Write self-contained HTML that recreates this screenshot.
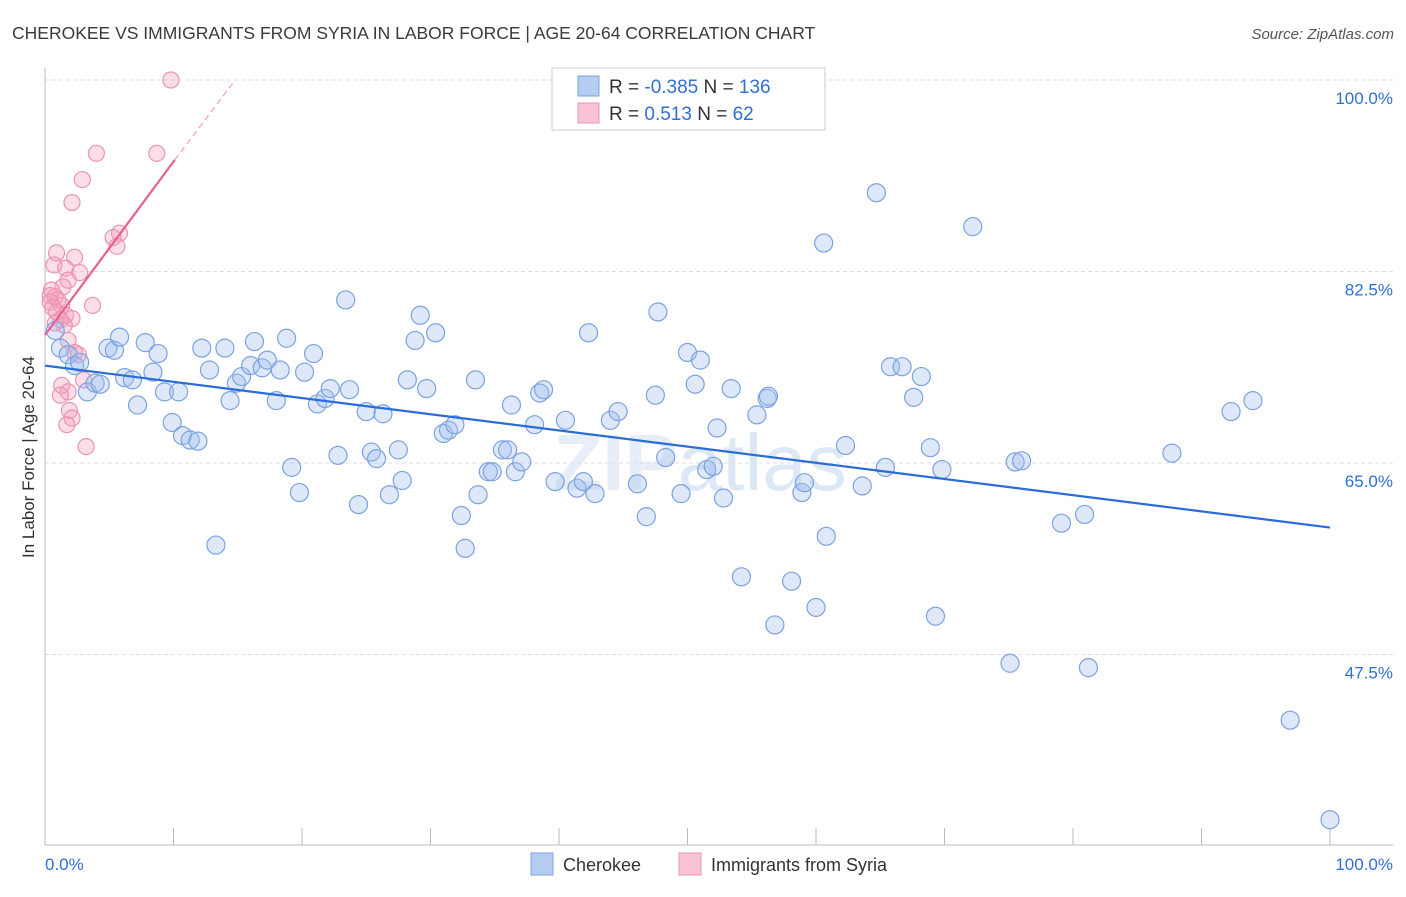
<!DOCTYPE html>
<html><head><meta charset="utf-8"><style>
body{margin:0;background:#fff;font-family:"Liberation Sans",sans-serif;}
svg text{font-family:"Liberation Sans",sans-serif;}
</style></head><body>
<svg width="1406" height="892" xmlns="http://www.w3.org/2000/svg">
<text x="12" y="39" font-size="17.5" fill="#3a3a3a">CHEROKEE VS IMMIGRANTS FROM SYRIA IN LABOR FORCE | AGE 20-64 CORRELATION CHART</text>
<text x="1394" y="39" font-size="15" fill="#555" font-style="italic" text-anchor="end">Source: ZipAtlas.com</text>
<text x="700" y="490" font-size="80" fill="#e8eef7" text-anchor="middle" font-weight="bold">ZIP<tspan fill="#dde8f7" font-weight="normal">atlas</tspan></text>
<g id="grid"></g>
<g id="axes"></g>
<g id="marks"></g>
<text transform="translate(34,457) rotate(-90)" font-size="17" fill="#333" text-anchor="middle">In Labor Force | Age 20-64</text>
<g>
<rect x="552" y="68" width="273" height="62" fill="#fff" stroke="#ccc"/>
<rect x="578" y="76" width="21" height="20" fill="#b4cdf1" stroke="#7aa3e0"/>
<rect x="578" y="103" width="21" height="20" fill="#f9c5d5" stroke="#ec94b0"/>
<text x="609" y="93" font-size="19" fill="#333">R = <tspan fill="#2f6fd6">-0.385</tspan>   N = <tspan fill="#2f6fd6">136</tspan></text>
<text x="609" y="120" font-size="19" fill="#333">R =   <tspan fill="#2f6fd6">0.513</tspan>   N =   <tspan fill="#2f6fd6">62</tspan></text>
</g>
<g>
<rect x="531" y="853" width="22" height="22" fill="#b4cdf1" stroke="#7aa3e0"/>
<text x="563" y="871" font-size="18" fill="#333">Cherokee</text>
<rect x="679" y="853" width="22" height="22" fill="#f9c5d5" stroke="#ec94b0"/>
<text x="711" y="871" font-size="18" fill="#333">Immigrants from Syria</text>
</g>
</svg>
<script>
const yTicks=[100,82.5,65,47.5];
const yTickLabels=["100.0%","82.5%","65.0%","47.5%"];
const xTickLabels=["0.0%","100.0%"];
const cherokeeX=[0.8,1.2,1.8,2.3,2.7,3.3,3.9,4.3,4.9,5.4,5.8,6.2,6.8,7.2,7.8,8.4,8.8,9.3,9.9,10.4,10.7,11.3,11.9,12.2,12.8,13.3,14.0,14.4,14.9,15.3,16.0,16.3,16.9,17.3,18.0,18.3,18.8,19.2,19.8,20.2,20.9,21.2,21.8,22.2,22.8,23.4,23.7,24.4,25.0,25.4,25.8,26.3,26.8,27.5,27.8,28.2,28.8,29.2,29.7,30.4,31.0,31.4,31.9,32.4,32.7,33.5,33.7,34.5,34.8,35.6,36.0,36.3,36.6,37.1,38.1,38.5,38.8,39.7,40.5,41.4,41.9,42.3,42.8,44.0,44.6,46.1,46.8,47.5,47.7,48.3,49.5,50.0,50.6,51.0,51.5,52.0,52.3,52.8,53.4,54.2,55.4,56.2,56.3,56.8,58.1,58.9,59.1,60.0,60.6,60.8,62.3,63.6,64.7,65.4,65.8,66.7,67.6,68.2,68.9,69.3,69.8,72.2,75.1,75.5,76.0,79.1,80.9,81.2,87.7,92.3,94.0,96.9,100.0,53.5];
const cherokeeY=[77.1,75.5,74.9,73.9,74.2,71.5,72.3,72.2,75.5,75.3,76.5,72.8,72.6,70.3,76.0,73.3,75.0,71.5,68.7,71.5,67.5,67.1,67.0,75.5,73.5,57.5,75.5,70.7,72.3,72.9,73.9,76.1,73.7,74.4,70.7,73.5,76.4,64.6,62.3,73.3,75.0,70.4,70.9,71.8,65.7,79.9,71.7,61.2,69.7,66.0,65.4,69.5,62.1,66.2,63.4,72.6,76.2,78.5,71.8,76.9,67.7,68.0,68.5,60.2,57.2,72.6,62.1,64.2,64.2,66.2,66.2,70.3,64.2,65.1,68.5,71.4,71.7,63.3,68.9,62.7,63.3,76.9,62.2,68.9,69.7,63.1,60.1,71.2,78.8,65.5,62.2,75.1,72.2,74.4,64.4,64.7,68.2,61.8,71.8,54.6,69.4,70.9,71.1,50.2,54.2,62.3,63.2,51.8,85.1,58.3,66.6,62.9,89.7,64.6,73.8,73.8,71.0,72.9,66.4,51.0,64.4,86.6,46.7,65.1,65.2,59.5,60.3,46.3,65.9,69.7,70.7,41.5,32.4,100];
const syriaX=[9.8,4.0,8.7,2.9,2.1,5.8,5.3,5.6,0.9,2.3,0.7,1.6,2.7,1.8,1.4,0.5,0.4,0.8,1.0,0.4,1.3,3.7,0.6,0.9,1.6,2.1,1.2,1.5,0.8,1.8,2.3,2.6,1.3,3.0,1.8,1.2,1.9,2.1,1.7,3.2];
const syriaY=[100,93.3,93.3,90.9,88.8,86.0,85.6,84.8,84.2,83.8,83.1,82.8,82.4,81.7,81.1,80.8,80.3,80.2,79.9,79.7,79.4,79.4,79.2,78.8,78.5,78.2,78.1,77.6,77.8,76.2,75.1,74.9,72.1,72.6,71.5,71.2,69.8,69.1,68.5,66.5];
const cherokeeTrend=[73.9,59.1]; // at x=0 and x=100
const syriaTrend=[76.7,92.7,100]; // at x=0, x=10.1 (solid end), x=14.8 (dashed end)
const syriaTrendX=[0,10.1,14.8];

const NS="http://www.w3.org/2000/svg";
const X=v=>45+v*12.85;
const Y=v=>80+(100-v)*10.943;
function mk(tag,attrs,parent){const e=document.createElementNS(NS,tag);for(const k in attrs)e.setAttribute(k,attrs[k]);document.getElementById(parent).appendChild(e);return e;}
yTicks.forEach((t,i)=>{
 const l=mk('line',{x1:45,x2:1393,y1:Y(t),y2:Y(t),stroke:'#ddd','stroke-dasharray':'4 3'},'grid');
 
 
 const tx=mk('text',{x:1393,y:Y(t)+24,'font-size':17,fill:'#2f6fd6','text-anchor':'end'},'grid');
 tx.textContent=yTickLabels[i];
 
 
});
const ax=mk('line',{x1:45,x2:1393,y1:845,y2:845,stroke:'#bbb'},'axes');


const ay=mk('line',{x1:45,x2:45,y1:68,y2:845,stroke:'#bbb'},'axes');


for(let i=1;i<=10;i++){
 const t=mk('line',{x1:X(i*10),x2:X(i*10),y1:828,y2:845,stroke:'#bbb'},'axes');
 
 
}
[[0,'start',45],[100,'end',1393]].forEach((d,i)=>{
 const t=mk('text',{x:d[2],y:870,'font-size':17,fill:'#2f6fd6','text-anchor':d[1]},'axes');
 t.textContent=xTickLabels[i];
 
 
});
syriaX.forEach((v,i)=>{
 const c=mk('circle',{cx:X(v),cy:Y(syriaY[i]),r:8,fill:'rgba(244,160,188,0.35)',stroke:'#ec94b0','stroke-width':1.2},'marks');
 
 
});
cherokeeX.forEach((v,i)=>{
 const c=mk('circle',{cx:X(v),cy:Y(cherokeeY[i]),r:9,fill:'rgba(160,190,238,0.35)',stroke:'#7aa3e0','stroke-width':1.2},'marks');
 
 
});
const bl=mk('line',{x1:X(0),y1:Y(cherokeeTrend[0]),x2:X(100),y2:Y(cherokeeTrend[1]),stroke:'#2a6dd6','stroke-width':2.2},'marks');


const pl=mk('line',{x1:X(syriaTrendX[0]),y1:Y(syriaTrend[0]),x2:X(syriaTrendX[1]),y2:Y(syriaTrend[1]),stroke:'#e8608c','stroke-width':2.2},'marks');


const pd=mk('line',{x1:X(syriaTrendX[1]),y1:Y(syriaTrend[1]),x2:X(syriaTrendX[2]),y2:Y(syriaTrend[2]),stroke:'#f0a0b8','stroke-width':1.2,'stroke-dasharray':'6 4'},'marks');


</script>
</body></html>
